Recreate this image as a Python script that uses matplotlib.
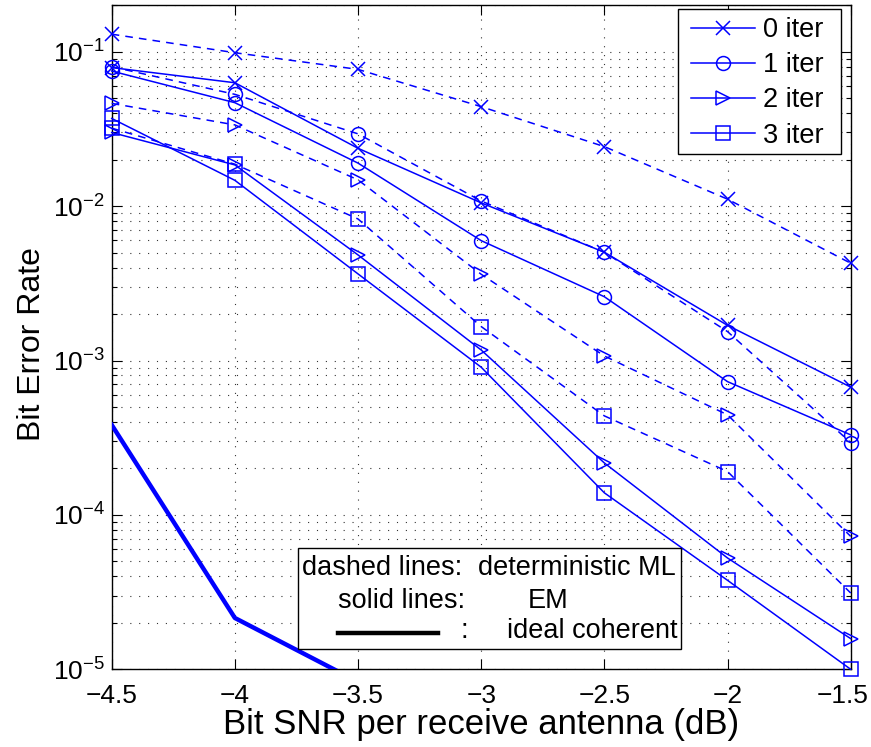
import matplotlib
matplotlib.use("Agg")
import matplotlib.pyplot as plt
from matplotlib.patches import Rectangle
from matplotlib.lines import Line2D
from matplotlib.transforms import ScaledTranslation
import numpy as np

plt.rcParams['font.family'] = ['Liberation Sans', 'DejaVu Sans']
plt.rcParams['mathtext.fontset'] = 'custom'
plt.rcParams['mathtext.rm'] = 'Liberation Sans'
plt.rcParams['mathtext.it'] = 'Liberation Sans'
plt.rcParams['mathtext.bf'] = 'Liberation Sans'

snr = [-4.5, -4.0, -3.5, -3.0, -2.5, -2.0, -1.5]
labels = ['0 iter', '1 iter', '2 iter', '3 iter']
markers = ['x', 'o', '>', 's']

# deterministic ML (dashed)
ml_0 = [0.130, 0.0986, 0.0769, 0.0441, 0.0243, 0.0111, 0.00427]
ml_1 = [0.080, 0.053, 0.0294, 0.0108, 0.00503, 0.00154, 0.000294]
ml_2 = [0.0463, 0.0336, 0.0148, 0.00362, 0.00107, 0.000445, 7.26e-5]
ml_3 = [0.032, 0.0187, 0.00826, 0.00166, 0.000438, 0.000191, 3.12e-5]

# EM (solid)
em_0 = [0.079, 0.063, 0.0237, 0.0105, 0.00503, 0.00169, 0.000673]
em_1 = [0.075, 0.0468, 0.019, 0.00598, 0.00259, 0.00073, 0.00033]
em_2 = [0.030, 0.0185, 0.00483, 0.00117, 0.000217, 5.26e-5, 1.58e-5]
em_3 = [0.037, 0.0147, 0.00364, 0.000905, 0.000139, 3.77e-5, 1.0e-5]

ideal_snr = [-4.5, -4.0, -3.5]
ideal = [3.83e-4, 2.15e-5, 8.3e-6]

xtick_vals = [-4.5, -4, -3.5, -3, -2.5, -2, -1.5]
xtick_labels = ['\u22124.5', '\u22124', '\u22123.5', '\u22123', '\u22122.5', '\u22122', '\u22121.5']
ytick_vals = [1e-5, 1e-4, 1e-3, 1e-2, 1e-1]
ytick_labels = [r'$10^{-5}$', r'$10^{-4}$', r'$10^{-3}$', r'$10^{-2}$', r'$10^{-1}$']

W, H = 871, 747
fig = plt.figure(figsize=(W/100, H/100), dpi=100)
ax = fig.add_axes([111.7/W, 1-669.3/H, (850.7-111.7)/W, (669.3-5.3)/H])

blue = (0, 0, 1)
msz = 10
lw = 1.1
for vals, m in zip([ml_0, ml_1, ml_2, ml_3], markers):
    ax.plot(snr, vals, linestyle=(0, (5, 4)), color=blue, lw=lw, marker=m,
            ms=msz, mfc='none', mec=blue, mew=1.1, clip_on=False, zorder=3)
handles = []
for vals, m, lab in zip([em_0, em_1, em_2, em_3], markers, labels):
    h, = ax.plot(snr, vals, linestyle='-', color=blue, lw=lw, marker=m,
                 ms=msz, mfc='none', mec=blue, mew=1.1, clip_on=False, zorder=3, label=lab)
    handles.append(h)
ax.plot(ideal_snr, ideal, '-', color=blue, lw=3.2, zorder=3)

ax.set_yscale('log')
ax.set_xlim(-4.5, -1.5)
ax.set_ylim(1e-5, 0.2)
ax.set_xticks(xtick_vals)
ax.set_xticklabels(xtick_labels)
ax.set_yticks(ytick_vals)
ax.set_yticklabels(ytick_labels)
ax.tick_params(which='both', direction='in', top=True, right=True, labelsize=19, width=0.8)
ax.tick_params(which='major', length=7)
ax.tick_params(axis='x', which='major', pad=10.5)
ax.tick_params(axis='y', which='major', pad=5)
ax.tick_params(which='minor', length=3.5)
ax.xaxis.set_minor_locator(matplotlib.ticker.NullLocator())

grid_ls = (0, (1, 7))
ax.grid(True, which='major', axis='x', color='k', linestyle=grid_ls, lw=0.8, alpha=0.8)
ax.grid(True, which='both', axis='y', color='k', linestyle=grid_ls, lw=0.8, alpha=0.8)
for s in ax.spines.values():
    s.set_linewidth(1.0)

ax.set_xlabel('Bit SNR per receive antenna (dB)', fontsize=25, labelpad=0)
ax.set_ylabel('Bit Error Rate', fontsize=23, labelpad=4)
ax.yaxis.label.set_y(0.49)

# keep last x tick label inside the figure, as in the reference
last = ax.xaxis.get_major_ticks()[-1].label1
last.set_transform(last.get_transform() + ScaledTranslation(-0.08, 0, fig.dpi_scale_trans))

def fx(px):
    return (px-111.7)/739
def fy(py):
    return (669.3-py)/664

# legend frame drawn at the reference's position
ax.add_patch(Rectangle((fx(677.7), fy(154.3)), fx(840.7)-fx(677.7), fy(9.3)-fy(154.3),
                       transform=ax.transAxes, facecolor='white', edgecolor='k',
                       lw=1.0, zorder=5, clip_on=False))
leg = ax.legend(handles=handles, loc='upper left',
                bbox_to_anchor=(fx(691), fy(17)),
                fontsize=19.5, frameon=False,
                handlelength=2.35, handletextpad=0.3, labelspacing=0.34,
                borderpad=0.0, borderaxespad=0.0)
leg.set_zorder(6)

ax.add_patch(Rectangle((fx(298), fy(649)), fx(681)-fx(298), fy(548)-fy(649),
                       transform=ax.transAxes, facecolor='white', edgecolor='k',
                       lw=1.0, zorder=6, clip_on=False))
tkw = dict(transform=ax.transAxes, fontsize=19.5, zorder=7, va='center')
ax.text(fx(462), fy(568), 'dashed lines:', ha='right', **tkw)
ax.text(fx(478), fy(568), 'deterministic ML', ha='left', **tkw)
ax.text(fx(465), fy(601), 'solid lines:', ha='right', **tkw)
ax.text(fx(548), fy(601), 'EM', ha='center', **tkw)
ax.text(fx(464), fy(631), ':', ha='center', **tkw)
ax.text(fx(507), fy(631), 'ideal coherent', ha='left', **tkw)
ax.add_line(Line2D([fx(338), fx(438)], [fy(633), fy(633)], transform=ax.transAxes,
                   color='k', lw=3.2, zorder=7))

fig.savefig('out.png', dpi=100)
